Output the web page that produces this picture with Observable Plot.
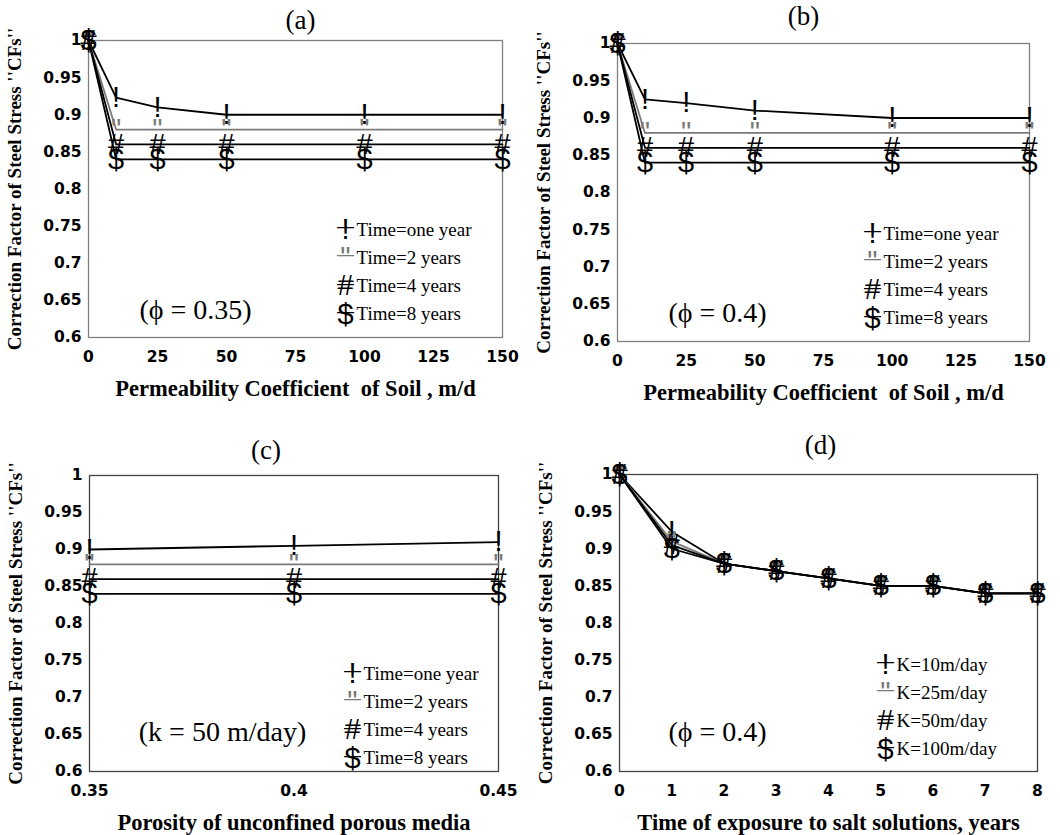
<!DOCTYPE html>
<html><head><meta charset="utf-8">
<script src="https://cdn.jsdelivr.net/npm/d3@7"></script>
<script src="https://cdn.jsdelivr.net/npm/@observablehq/plot@0.6"></script>
<style>
body{margin:0;background:#fff;}
#wrap{position:relative;width:1060px;height:835px;overflow:hidden;}
.panel{position:absolute;}
</style></head><body><div id="wrap"></div>
<script>
// ---------- data ----------
const yTicks = [0.6, 0.65, 0.7, 0.75, 0.8, 0.85, 0.9, 0.95, 1];
const yLabel = "Correction Factor of Steel Stress ''CFs''";
const markerGlyphs = ["!", "\"", "#", "$"];
const seriesColors = ["#000", "#7a7a7a", "#000", "#000"];

// (a) phi = 0.35
const permX = [0, 10, 25, 50, 100, 150];
const permTicks = [0, 25, 50, 75, 100, 125, 150];
const aOneYear   = [1, 0.923, 0.91, 0.90, 0.90, 0.90];
const aTwoYears  = [1, 0.88, 0.88, 0.88, 0.88, 0.88];
const aFourYears = [1, 0.86, 0.86, 0.86, 0.86, 0.86];
const aEightYears= [1, 0.84, 0.84, 0.84, 0.84, 0.84];

// (b) phi = 0.4
const bOneYear   = [1, 0.925, 0.92, 0.91, 0.90, 0.90];
const bTwoYears  = [1, 0.88, 0.88, 0.88, 0.88, 0.88];
const bFourYears = [1, 0.86, 0.86, 0.86, 0.86, 0.86];
const bEightYears= [1, 0.84, 0.84, 0.84, 0.84, 0.84];

// (c) k = 50 m/day
const porosityX = [0.35, 0.4, 0.45];
const cOneYear   = [0.90, 0.905, 0.91];
const cTwoYears  = [0.88, 0.88, 0.88];
const cFourYears = [0.86, 0.86, 0.86];
const cEightYears= [0.84, 0.84, 0.84];

// (d) phi = 0.4
const timeX = [0, 1, 2, 3, 4, 5, 6, 7, 8];
const dK10  = [1, 0.923, 0.88, 0.87, 0.86, 0.85, 0.85, 0.84, 0.84];
const dK25  = [1, 0.91, 0.88, 0.87, 0.86, 0.85, 0.85, 0.84, 0.84];
const dK50  = [1, 0.905, 0.88, 0.87, 0.86, 0.85, 0.85, 0.84, 0.84];
const dK100 = [1, 0.90, 0.88, 0.87, 0.86, 0.85, 0.85, 0.84, 0.84];

const timeLabels = ["Time=one year", "Time=2 years", "Time=4 years", "Time=8 years"];
const kLabels = ["K=10m/day", "K=25m/day", "K=50m/day", "K=100m/day"];

const fmt = d3.format("~g");
const SERIF = "Liberation Serif";
const SANS = "Liberation Sans";
const TICKFONT = "DejaVu Sans";

function makePanel(cfg) {
  const rows = cfg.series.flatMap((vals, k) => cfg.xs.map((x, j) => ({x, y: vals[j], k})));
  const marks = [
    Plot.frame({stroke: cfg.frameColor, strokeWidth: 1.3}),
    // tick labels drawn through the scales
    Plot.text(cfg.xTicks, {x: d => d, frameAnchor: "bottom", dy: 20, text: d => fmt(d),
      textAnchor: "middle", lineAnchor: "middle", fontSize: 15.5, fontWeight: "bold", fontFamily: TICKFONT, fill: "#000"}),
    Plot.text(yTicks, {y: d => d, frameAnchor: "left", dx: -7, text: d => fmt(d),
      textAnchor: "end", lineAnchor: "middle", fontSize: 15.5, fontWeight: "bold", fontFamily: TICKFONT, fill: "#000"}),
  ];
  cfg.series.forEach((vals, k) => {
    marks.push(Plot.line(rows.filter(r => r.k === k), {x: "x", y: "y", stroke: seriesColors[k], strokeWidth: 1.8}));
  });
  cfg.series.forEach((vals, k) => {
    marks.push(Plot.text(rows.filter(r => r.k === k), {x: "x", y: "y", text: () => markerGlyphs[k],
      fill: seriesColors[k], fontSize: 29, fontFamily: SANS, textAnchor: "middle", lineAnchor: "middle"}));
  });
  // title
  marks.push(Plot.text([cfg.title], {frameAnchor: "top", dx: cfg.titleDx, dy: cfg.titleDy,
    textAnchor: "middle", lineAnchor: "middle", fontSize: 27, fontFamily: SERIF, fill: "#000"}));
  // x label
  marks.push(Plot.text([cfg.xLabel], {frameAnchor: "bottom", dy: 51, textAnchor: "middle", lineAnchor: "middle",
    fontSize: 22.5, fontWeight: "bold", fontFamily: SERIF, fill: "#000"}));
  // y label
  marks.push(Plot.text([yLabel], {frameAnchor: "left", dx: -74, rotate: -90, textAnchor: "middle", lineAnchor: "middle",
    fontSize: 19, fontWeight: "bold", fontFamily: SERIF, fill: "#000"}));
  // note
  marks.push(Plot.text([cfg.note], {frameAnchor: "top-left", dx: cfg.noteX, dy: cfg.noteY, textAnchor: "middle",
    lineAnchor: "middle", fontSize: 28, fontFamily: SERIF, fill: "#000"}));
  // legend
  cfg.legendLabels.forEach((lab, k) => {
    const dy = cfg.legY + k * 28.3;
    marks.push(Plot.text(["\u2014"], {frameAnchor: "top-left", dx: cfg.legSym, dy: dy - 3, textAnchor: "middle",
      lineAnchor: "middle", fontSize: 17, fontFamily: SANS, fill: seriesColors[k]}));
    marks.push(Plot.text([markerGlyphs[k]], {frameAnchor: "top-left", dx: cfg.legSym, dy, textAnchor: "middle",
      lineAnchor: "middle", fontSize: 29, fontFamily: SANS, fill: seriesColors[k]}));
    marks.push(Plot.text([lab], {frameAnchor: "top-left", dx: cfg.legSym + 11, dy, textAnchor: "start",
      lineAnchor: "middle", fontSize: 19, fontFamily: SERIF, fill: "#000"}));
  });
  return Plot.plot({
    width: 530, height: cfg.height,
    marginLeft: cfg.m[0], marginRight: cfg.m[1], marginTop: cfg.m[2], marginBottom: cfg.m[3],
    x: {domain: cfg.xDomain, axis: null},
    y: {domain: [0.6, 1], axis: null},
    style: {background: "transparent", overflow: "visible", color: "#000"},
    marks
  });
}

const panels = [
  {left: 0, top: 0, height: 410, m: [88, 28, 40, 73], xs: permX, xDomain: [0, 150], xTicks: permTicks,
   series: [aOneYear, aTwoYears, aFourYears, aEightYears], frameColor: "#808080",
   title: "(a)", titleDx: 5, titleDy: -20, xLabel: "Permeability Coefficient\u00a0 of Soil , m/d",
   note: "(\u03d5 = 0.35)", noteX: 107, noteY: 270, legendLabels: timeLabels, legSym: 257, legY: 189},
  {left: 530, top: 0, height: 410, m: [87, 31, 43, 69], xs: permX, xDomain: [0, 150], xTicks: permTicks,
   series: [bOneYear, bTwoYears, bFourYears, bEightYears], frameColor: "#808080",
   title: "(b)", titleDx: -20, titleDy: -27, xLabel: "Permeability Coefficient\u00a0 of Soil , m/d",
   note: "(\u03d5 = 0.4)", noteX: 100, noteY: 270, legendLabels: timeLabels, legSym: 255, legY: 190},
  {left: 0, top: 410, height: 425, m: [89, 32, 65, 64], xs: porosityX, xDomain: [0.35, 0.45], xTicks: porosityX,
   series: [cOneYear, cTwoYears, cFourYears, cEightYears], frameColor: "#444",
   title: "(c)", titleDx: -28, titleDy: -25, xLabel: "Porosity of unconfined porous media",
   note: "(k = 50 m/day)", noteX: 133, noteY: 257, legendLabels: timeLabels, legSym: 263, legY: 198},
  {left: 530, top: 410, height: 425, m: [89, 23, 64, 64], xs: timeX, xDomain: [0, 8], xTicks: timeX,
   series: [dK10, dK25, dK50, dK100], frameColor: "#444",
   title: "(d)", titleDx: -8, titleDy: -29, xLabel: "Time of exposure to salt solutions, years",
   note: "(\u03d5 = 0.4)", noteX: 98, noteY: 258, legendLabels: kLabels, legSym: 266, legY: 190},
];

const wrap = document.getElementById("wrap");
for (const p of panels) {
  const div = document.createElement("div");
  div.className = "panel";
  div.style.left = p.left + "px";
  div.style.top = p.top + "px";
  div.appendChild(makePanel(p));
  wrap.appendChild(div);
}
</script>
</body></html>
